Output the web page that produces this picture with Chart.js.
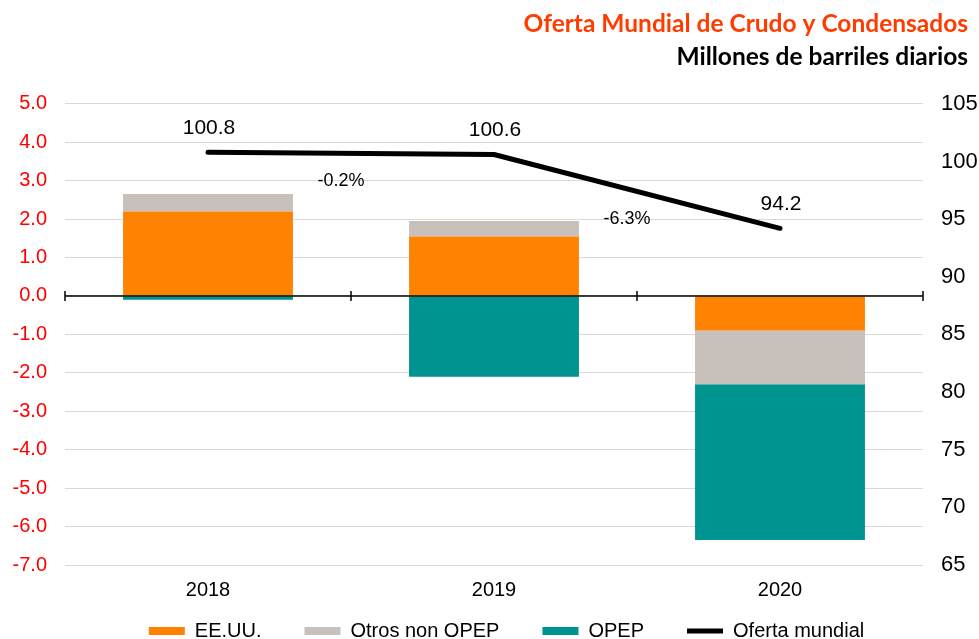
<!DOCTYPE html>
<html>
<head>
<meta charset="utf-8">
<script src="https://cdn.jsdelivr.net/npm/chart.js@4.4.0/dist/chart.umd.min.js"></script>
<style>
  body { margin: 0; background: #fff; overflow: hidden; }
  #wrap { width: 979px; height: 639px; }
</style>
</head>
<body>
<div id="wrap"><canvas id="Chart"></canvas></div>
<script>
const years = ["2018", "2019", "2020"];
const eeuu = [2.2, 1.55, -0.9];
const otrosNonOpep = [0.45, 0.4, -1.4];
const opep = [-0.1, -2.1, -4.05];
const ofertaMundial = [100.8, 100.6, 94.2];
const cambioPct = ["-0.2%", "-6.3%"];

const leftMin = -7, leftMax = 5, leftStep = 1;
const rightMin = 65, rightMax = 105, rightStep = 5;

const font = "'Liberation Sans', Arial, sans-serif";
Chart.defaults.font.family = font;

// zero line with tick marks + value labels on the line
const labelsPlugin = {
  id: "labels",
  afterLayout: chart => {
    // legend: move it to where the reference has it (it is clipped to its box)
    const lg = chart.legend;
    const dy = 631 - (lg.top + lg.options.labels.padding + 10);
    lg.left += 17;
    lg.right += 17;
    lg.top += dy;
    lg.bottom = chart.height;
    // title + subtitle end a bit before the right edge
    chart.boxes.forEach(box => {
      if (box.position === "top") box.right -= 11;
    });
  },
  afterDatasetsDraw: chart => {
    const { ctx, scales, chartArea } = chart;
    const y0 = scales.y.getPixelForValue(0);
    ctx.save();
    ctx.strokeStyle = "#000";
    ctx.lineWidth = 1.5;
    ctx.beginPath();
    ctx.moveTo(chartArea.left, y0);
    ctx.lineTo(chartArea.right, y0);
    const step = (chartArea.right - chartArea.left) / years.length;
    for (let i = 0; i <= years.length; i++) {
      const x = chartArea.left + i * step;
      ctx.moveTo(x, y0 - 5);
      ctx.lineTo(x, y0 + 5);
    }
    ctx.stroke();

    const pts = chart.getDatasetMeta(3).data;
    ctx.fillStyle = "#000";
    ctx.textAlign = "center";
    ctx.textBaseline = "middle";
    ctx.font = "21px " + font;
    pts.forEach((p, i) => {
      ctx.fillText(ofertaMundial[i].toFixed(1), p.x + 1, p.y - 24);
    });
    ctx.font = "18px " + font;
    cambioPct.forEach((txt, i) => {
      const a = pts[i];
      const b = pts[i + 1];
      ctx.fillText(txt, (a.x + b.x) / 2 - 10, (a.y + b.y) / 2 + 28);
    });
    ctx.restore();
  }
};

const ctx = document.getElementById("Chart").getContext("2d");

const barStyle = {
  type: "bar",
  yAxisID: "y",
  borderWidth: 0,
  pointStyle: "rect",
  barPercentage: 0.594,
  categoryPercentage: 1,
  order: 1
};

new Chart(ctx, {
  type: "bar",
  data: {
    labels: years,
    datasets: [
      { ...barStyle, label: "EE.UU.", data: eeuu, backgroundColor: "#FF8200" },
      { ...barStyle, label: "Otros non OPEP", data: otrosNonOpep, backgroundColor: "#C8C0BA" },
      { ...barStyle, label: "OPEP", data: opep, backgroundColor: "#009491" },
      {
        type: "line",
        label: "Oferta mundial",
        data: ofertaMundial,
        yAxisID: "y1",
        borderColor: "#000",
        backgroundColor: "#000",
        borderWidth: 5,
        borderCapStyle: "round",
        borderJoinStyle: "round",
        pointRadius: 0,
        pointHoverRadius: 0,
        pointStyle: "line",
        pointBorderColor: "#000",
        pointBorderWidth: 5,
        tension: 0,
        order: 0
      }
    ]
  },
  options: {
    responsive: true,
    maintainAspectRatio: false,
    animation: false,
    layout: { padding: 0 },
    plugins: {
      title: {
        display: true,
        text: "Oferta Mundial de Crudo y Condensados",
        align: "end",
        color: "#FF3C00",
        font: { family: "Lato", size: 24.5, weight: "bold", lineHeight: 1.2 },
        padding: { top: 9, bottom: 4 }
      },
      subtitle: {
        display: true,
        text: "Millones de barriles diarios",
        align: "end",
        color: "#000",
        font: { family: "Lato", size: 24.5, weight: "bold", lineHeight: 1.2 },
        padding: { top: 0, bottom: 32 }
      },
      legend: {
        position: "bottom",
        maxHeight: 36,
        labels: {
          sort: (a, b) => a.datasetIndex - b.datasetIndex,
          usePointStyle: true,
          pointStyleWidth: 36,
          boxHeight: 8,
          padding: 43,
          color: "#000",
          font: { size: 20 }
        }
      },
      tooltip: { enabled: false }
    },
    scales: {
      x: {
        stacked: true,
        grid: { display: false },
        border: { display: false },
        ticks: { color: "#000", font: { size: 20 }, padding: 5 },
        afterFit: scale => { scale.height = 38; }
      },
      y: {
        stacked: true,
        position: "left",
        min: leftMin,
        max: leftMax,
        grid: { color: "#D9D9D9", lineWidth: 1, drawTicks: false },
        border: { display: false },
        ticks: {
          stepSize: leftStep,
          color: "#FF0000",
          font: { size: 20 },
          padding: 18,
          callback: v => v.toFixed(1)
        },
        afterFit: scale => { scale.width = 65; }
      },
      y1: {
        position: "right",
        min: rightMin,
        max: rightMax,
        grid: { display: false },
        border: { display: false },
        ticks: {
          stepSize: rightStep,
          color: "#000",
          font: { size: 22 },
          padding: 10
        },
        afterFit: scale => { scale.width = 56; }
      }
    }
  },
  plugins: [labelsPlugin]
});
</script>
</body>
</html>
